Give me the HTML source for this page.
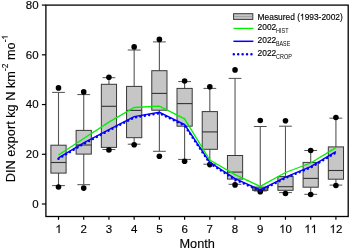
<!DOCTYPE html>
<html><head><meta charset="utf-8"><style>
html,body{margin:0;padding:0;background:#fff;}
svg{display:block;will-change:transform;}
text{font-family:"Liberation Sans",sans-serif;fill:#000;}
.tl{font-size:11.5px;stroke:#000;stroke-width:0.15;}
.al{font-size:12.75px;stroke:#000;stroke-width:0.12;}
.sup{font-size:8.3px;}
.lg{font-size:8.4px;stroke:#000;stroke-width:0.15;}
.sub{font-size:6.4px;}
.frame{fill:none;stroke:#000;stroke-width:1.3;}
.tick{stroke:#000;stroke-width:1.2;}
.wh{stroke:#555;stroke-width:1.1;}
.cap{stroke:#505050;stroke-width:1;}
.box{fill:#c6c6c6;stroke:#383838;stroke-width:1;}
.med{stroke:#333;stroke-width:1.1;}
.dot{fill:#000;}
.hid{fill-opacity:0;stroke-opacity:0;}
.hist{fill:none;stroke:#00f000;stroke-width:1.3;}
.base{fill:none;stroke:#0000ff;stroke-width:1.5;}
.crop{fill:none;stroke:#0000ff;stroke-width:2.5;stroke-dasharray:0.01 4.4;stroke-linecap:round;}
</style></head>
<body><svg width="350" height="249" viewBox="0 0 350 249">
<defs><path id="one" d="M763 0H583V1147C530 1096 400 1010 223 930V1104C370 1170 560 1330 643 1466H763Z"/></defs>
<line x1="58.50" y1="92.4" x2="58.50" y2="145.2" class="wh"/>
<line x1="58.50" y1="173.1" x2="58.50" y2="185.6" class="wh"/>
<line x1="52.10" y1="92.4" x2="64.90" y2="92.4" class="cap"/>
<line x1="52.10" y1="185.6" x2="64.90" y2="185.6" class="cap"/>
<rect x="50.90" y="145.2" width="15.20" height="27.90" class="box"/>
<line x1="50.90" y1="162.5" x2="66.10" y2="162.5" class="med"/>
<circle cx="58.50" cy="87.9" r="2.8" class="dot"/>
<circle cx="58.50" cy="187.0" r="2.8" class="dot"/>
<line x1="83.72" y1="94.6" x2="83.72" y2="130.4" class="wh"/>
<line x1="83.72" y1="154.1" x2="83.72" y2="184.7" class="wh"/>
<line x1="77.32" y1="94.6" x2="90.12" y2="94.6" class="cap"/>
<line x1="77.32" y1="184.7" x2="90.12" y2="184.7" class="cap"/>
<rect x="76.12" y="130.4" width="15.20" height="23.70" class="box"/>
<line x1="76.12" y1="145.0" x2="91.32" y2="145.0" class="med"/>
<circle cx="83.72" cy="91.9" r="2.8" class="dot"/>
<circle cx="83.72" cy="188.1" r="2.8" class="dot"/>
<line x1="108.94" y1="77.7" x2="108.94" y2="84.3" class="wh"/>
<line x1="108.94" y1="147.4" x2="108.94" y2="149.5" class="wh"/>
<line x1="102.54" y1="77.7" x2="115.34" y2="77.7" class="cap"/>
<line x1="102.54" y1="149.5" x2="115.34" y2="149.5" class="cap"/>
<rect x="101.34" y="84.3" width="15.20" height="63.10" class="box"/>
<line x1="101.34" y1="106.3" x2="116.54" y2="106.3" class="med"/>
<circle cx="108.94" cy="77.3" r="2.8" class="dot"/>
<circle cx="108.94" cy="150.0" r="2.8" class="dot"/>
<line x1="134.16" y1="50.0" x2="134.16" y2="86.4" class="wh"/>
<line x1="134.16" y1="137.7" x2="134.16" y2="144.2" class="wh"/>
<line x1="127.76" y1="50.0" x2="140.56" y2="50.0" class="cap"/>
<line x1="127.76" y1="144.2" x2="140.56" y2="144.2" class="cap"/>
<rect x="126.56" y="86.4" width="15.20" height="51.30" class="box"/>
<line x1="126.56" y1="110.4" x2="141.76" y2="110.4" class="med"/>
<circle cx="134.16" cy="46.9" r="2.8" class="dot"/>
<circle cx="134.16" cy="144.8" r="2.8" class="dot"/>
<line x1="159.38" y1="41.9" x2="159.38" y2="70.7" class="wh"/>
<line x1="159.38" y1="110.2" x2="159.38" y2="151.3" class="wh"/>
<line x1="152.98" y1="41.9" x2="165.78" y2="41.9" class="cap"/>
<line x1="152.98" y1="151.3" x2="165.78" y2="151.3" class="cap"/>
<rect x="151.78" y="70.7" width="15.20" height="39.50" class="box"/>
<line x1="151.78" y1="93.4" x2="166.98" y2="93.4" class="med"/>
<circle cx="159.38" cy="39.4" r="2.8" class="dot"/>
<circle cx="159.38" cy="156.2" r="2.8" class="dot"/>
<line x1="184.60" y1="81.6" x2="184.60" y2="88.4" class="wh"/>
<line x1="184.60" y1="126.2" x2="184.60" y2="159.4" class="wh"/>
<line x1="178.20" y1="81.6" x2="191.00" y2="81.6" class="cap"/>
<line x1="178.20" y1="159.4" x2="191.00" y2="159.4" class="cap"/>
<rect x="177.00" y="88.4" width="15.20" height="37.80" class="box"/>
<line x1="177.00" y1="103.6" x2="192.20" y2="103.6" class="med"/>
<circle cx="184.60" cy="81.0" r="2.8" class="dot"/>
<circle cx="184.60" cy="161.2" r="2.8" class="dot"/>
<line x1="209.82" y1="88.4" x2="209.82" y2="111.6" class="wh"/>
<line x1="209.82" y1="149.3" x2="209.82" y2="164.2" class="wh"/>
<line x1="203.42" y1="88.4" x2="216.22" y2="88.4" class="cap"/>
<line x1="203.42" y1="164.2" x2="216.22" y2="164.2" class="cap"/>
<rect x="202.22" y="111.6" width="15.20" height="37.70" class="box"/>
<line x1="202.22" y1="131.9" x2="217.42" y2="131.9" class="med"/>
<circle cx="209.82" cy="86.8" r="2.8" class="dot"/>
<circle cx="209.82" cy="164.6" r="2.8" class="dot"/>
<line x1="235.04" y1="78.4" x2="235.04" y2="155.5" class="wh"/>
<line x1="235.04" y1="179.1" x2="235.04" y2="184.3" class="wh"/>
<line x1="228.64" y1="78.4" x2="241.44" y2="78.4" class="cap"/>
<line x1="228.64" y1="184.3" x2="241.44" y2="184.3" class="cap"/>
<rect x="227.44" y="155.5" width="15.20" height="23.60" class="box"/>
<line x1="227.44" y1="172.1" x2="242.64" y2="172.1" class="med"/>
<circle cx="235.04" cy="69.9" r="2.8" class="dot"/>
<circle cx="235.04" cy="184.9" r="2.8" class="dot"/>
<line x1="260.26" y1="126.5" x2="260.26" y2="187.1" class="wh"/>
<line x1="260.26" y1="190.4" x2="260.26" y2="191.0" class="wh"/>
<line x1="253.86" y1="126.5" x2="266.66" y2="126.5" class="cap"/>
<line x1="253.86" y1="191.0" x2="266.66" y2="191.0" class="cap"/>
<rect x="252.66" y="187.1" width="15.20" height="3.30" class="box"/>
<line x1="252.66" y1="189.0" x2="267.86" y2="189.0" class="med"/>
<circle cx="260.26" cy="120.5" r="2.8" class="dot"/>
<circle cx="260.26" cy="191.7" r="2.8" class="dot"/>
<line x1="285.48" y1="126.2" x2="285.48" y2="176.6" class="wh"/>
<line x1="285.48" y1="190.3" x2="285.48" y2="192.6" class="wh"/>
<line x1="279.08" y1="126.2" x2="291.88" y2="126.2" class="cap"/>
<line x1="279.08" y1="192.6" x2="291.88" y2="192.6" class="cap"/>
<rect x="277.88" y="176.6" width="15.20" height="13.70" class="box"/>
<line x1="277.88" y1="186.7" x2="293.08" y2="186.7" class="med"/>
<circle cx="285.48" cy="120.8" r="2.8" class="dot"/>
<circle cx="285.48" cy="193.5" r="2.8" class="dot"/>
<line x1="310.70" y1="150.5" x2="310.70" y2="162.4" class="wh"/>
<line x1="310.70" y1="187.2" x2="310.70" y2="194.3" class="wh"/>
<line x1="304.30" y1="150.5" x2="317.10" y2="150.5" class="cap"/>
<line x1="304.30" y1="194.3" x2="317.10" y2="194.3" class="cap"/>
<rect x="303.10" y="162.4" width="15.20" height="24.80" class="box"/>
<line x1="303.10" y1="178.4" x2="318.30" y2="178.4" class="med"/>
<circle cx="310.70" cy="150.5" r="2.8" class="dot"/>
<circle cx="310.70" cy="194.5" r="2.8" class="dot"/>
<line x1="335.92" y1="118.2" x2="335.92" y2="146.9" class="wh"/>
<line x1="335.92" y1="179.2" x2="335.92" y2="185.1" class="wh"/>
<line x1="329.52" y1="118.2" x2="342.32" y2="118.2" class="cap"/>
<line x1="329.52" y1="185.1" x2="342.32" y2="185.1" class="cap"/>
<rect x="328.32" y="146.9" width="15.20" height="32.30" class="box"/>
<line x1="328.32" y1="170.5" x2="343.52" y2="170.5" class="med"/>
<circle cx="335.92" cy="117.5" r="2.8" class="dot"/>
<circle cx="335.92" cy="185.5" r="2.8" class="dot"/>
<polyline points="58.50,158.80 83.72,143.80 108.94,130.50 134.16,117.50 159.38,113.20 184.60,125.50 209.82,163.20 235.04,179.60 260.26,190.90 285.48,178.00 310.70,167.50 335.92,152.50" class="crop"/>
<polyline points="58.50,157.90 83.72,142.90 108.94,129.60 134.16,116.60 159.38,112.30 184.60,124.60 209.82,162.30 235.04,178.70 260.26,190.00 285.48,177.10 310.70,166.60 335.92,151.60" class="base"/>
<polyline points="58.50,155.00 83.72,138.50 108.94,122.10 134.16,107.50 159.38,106.20 184.60,118.80 209.82,160.00 235.04,174.60 260.26,186.40 285.48,172.50 310.70,163.00 335.92,147.60" class="hist"/>
<rect x="45.9" y="5.1" width="302.30" height="211.40" class="frame"/>
<line x1="41.9" y1="204.00" x2="45.9" y2="204.00" class="tick"/>
<text x="38.6" y="207.90" class="tl" text-anchor="end">0</text>
<line x1="41.9" y1="154.28" x2="45.9" y2="154.28" class="tick"/>
<text x="38.6" y="158.18" class="tl" text-anchor="end">20</text>
<line x1="41.9" y1="104.55" x2="45.9" y2="104.55" class="tick"/>
<text x="38.6" y="108.45" class="tl" text-anchor="end">40</text>
<line x1="41.9" y1="54.82" x2="45.9" y2="54.82" class="tick"/>
<text x="38.6" y="58.72" class="tl" text-anchor="end">60</text>
<line x1="41.9" y1="5.10" x2="45.9" y2="5.10" class="tick"/>
<text x="38.6" y="9.00" class="tl" text-anchor="end">80</text>
<line x1="58.50" y1="216.5" x2="58.50" y2="219.8" class="tick"/>
<text x="55.30" y="233" class="tl"><tspan class="hid">1</tspan></text>
<use href="#one" stroke="#000" stroke-width="27" transform="translate(55.30,233) scale(0.00562,-0.00562)"/>
<line x1="83.72" y1="216.5" x2="83.72" y2="219.8" class="tick"/>
<text x="80.52" y="233" class="tl">2</text>
<line x1="108.94" y1="216.5" x2="108.94" y2="219.8" class="tick"/>
<text x="105.74" y="233" class="tl">3</text>
<line x1="134.16" y1="216.5" x2="134.16" y2="219.8" class="tick"/>
<text x="130.96" y="233" class="tl">4</text>
<line x1="159.38" y1="216.5" x2="159.38" y2="219.8" class="tick"/>
<text x="156.18" y="233" class="tl">5</text>
<line x1="184.60" y1="216.5" x2="184.60" y2="219.8" class="tick"/>
<text x="181.40" y="233" class="tl">6</text>
<line x1="209.82" y1="216.5" x2="209.82" y2="219.8" class="tick"/>
<text x="206.62" y="233" class="tl">7</text>
<line x1="235.04" y1="216.5" x2="235.04" y2="219.8" class="tick"/>
<text x="231.84" y="233" class="tl">8</text>
<line x1="260.26" y1="216.5" x2="260.26" y2="219.8" class="tick"/>
<text x="257.06" y="233" class="tl">9</text>
<line x1="285.48" y1="216.5" x2="285.48" y2="219.8" class="tick"/>
<text x="279.09" y="233" class="tl"><tspan class="hid">1</tspan>0</text>
<use href="#one" stroke="#000" stroke-width="27" transform="translate(279.09,233) scale(0.00562,-0.00562)"/>
<line x1="310.70" y1="216.5" x2="310.70" y2="219.8" class="tick"/>
<text x="304.31" y="233" class="tl"><tspan class="hid">1</tspan><tspan class="hid">1</tspan></text>
<use href="#one" stroke="#000" stroke-width="27" transform="translate(304.31,233) scale(0.00562,-0.00562)"/>
<use href="#one" stroke="#000" stroke-width="27" transform="translate(310.70,233) scale(0.00562,-0.00562)"/>
<line x1="335.92" y1="216.5" x2="335.92" y2="219.8" class="tick"/>
<text x="329.53" y="233" class="tl"><tspan class="hid">1</tspan>2</text>
<use href="#one" stroke="#000" stroke-width="27" transform="translate(329.53,233) scale(0.00562,-0.00562)"/>
<text x="197.2" y="247.8" class="al" text-anchor="middle">Month</text>
<text transform="translate(14.7,108.6) rotate(-90)" class="al" text-anchor="middle">DIN export kg N km<tspan class="sup" dy="-7">-2</tspan><tspan dy="7"> mo</tspan><tspan class="sup" dy="-7">-<tspan class="hid">1</tspan></tspan></text>
<g transform="translate(14.7,108.6) rotate(-90)"><use href="#one" stroke="#000" stroke-width="30" transform="translate(69.02,-7) scale(0.0040527,-0.0040527)"/></g>
<rect x="233.6" y="13.7" width="19.2" height="5.7" class="box"/>
<line x1="234.1" y1="16.6" x2="252.3" y2="16.6" stroke="#a0a0a0" stroke-width="1"/>
<line x1="233.4" y1="28.4" x2="253.4" y2="28.4" class="hist"/>
<line x1="233.4" y1="41.3" x2="253.4" y2="41.3" class="base"/>
<line x1="233.8" y1="54.3" x2="253.4" y2="54.3" class="crop"/>
<text x="257.6" y="19.7" class="lg">Measured (<tspan class="hid">1</tspan>993-2002)</text>
<use href="#one" stroke="#000" stroke-width="37" transform="translate(299.94,19.7) scale(0.0041016,-0.0041016)"/>
<text x="257.6" y="30.1" class="lg">2002</text><text x="276.1" y="33.0" class="sub" textLength="12.4" lengthAdjust="spacingAndGlyphs">HIST</text>
<text x="257.6" y="42.9" class="lg">2022</text><text x="276.0" y="45.5" class="sub" textLength="14.2" lengthAdjust="spacingAndGlyphs">BASE</text>
<text x="257.6" y="55.7" class="lg">2022</text><text x="276.0" y="59.0" class="sub" textLength="15.8" lengthAdjust="spacingAndGlyphs">CROP</text>
</svg></body></html>
